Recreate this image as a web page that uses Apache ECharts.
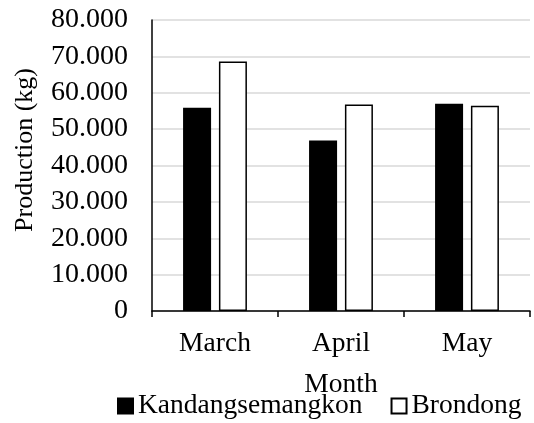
<!DOCTYPE html>
<html>
<head>
<meta charset="utf-8">
<script src="https://cdn.jsdelivr.net/npm/echarts@6/dist/echarts.min.js"></script>
<style>
  html, body { margin: 0; padding: 0; background: #fff; }
  #chart { width: 534px; height: 423px; }
</style>
</head>
<body>
<div id="chart"></div>
<script>
// Monthly production (kg) for two locations
const months = ['March', 'April', 'May'];
const kandangsemangkon = [55900, 46900, 57000];
const brondong = [68600, 56800, 56400];
const yTicks = [0, 10000, 20000, 30000, 40000, 50000, 60000, 70000, 80000];

const FONT = '"Liberation Serif", "Times New Roman", serif';

// Thousands separated by dots, e.g. 80000 -> "80.000"
function fmt(v) {
  return String(v).replace(/\B(?=(\d{3})+(?!\d))/g, '.');
}

const chart = echarts.init(document.getElementById('chart'), null, { renderer: 'canvas' });
chart.setOption({
  animation: false,
  backgroundColor: '#ffffff',
  textStyle: { fontFamily: FONT, color: '#000' },
  grid: { left: 152, right: 4, top: 20, bottom: 112, containLabel: false },
  xAxis: {
    type: 'category',
    data: months,
    name: 'Month',
    nameLocation: 'middle',
    nameGap: 60,
    nameTextStyle: { fontFamily: FONT, fontSize: 27.5, color: '#000' },
    axisLine: { lineStyle: { color: '#000', width: 1.5 } },
    axisTick: { show: true, length: 6, lineStyle: { color: '#000', width: 1.5 } },
    axisLabel: { fontFamily: FONT, fontSize: 27.5, color: '#000', margin: 19 }
  },
  yAxis: {
    type: 'value',
    min: yTicks[0],
    max: yTicks[yTicks.length - 1],
    interval: 10000,
    axisLine: { show: true, lineStyle: { color: '#000', width: 1.5 } },
    axisTick: { show: false },
    splitLine: { lineStyle: { color: '#d9d9d9', width: 1.5 } },
    axisLabel: { fontFamily: FONT, fontSize: 28, color: '#000', margin: 24, formatter: fmt }
  },
  legend: {
    top: 392,
    left: 117,
    padding: 0,
    icon: 'rect',
    itemWidth: 15,
    itemHeight: 15,
    itemGap: 28,
    textStyle: { fontFamily: FONT, fontSize: 27.5, lineHeight: 28, color: '#000' },
    data: ['Kandangsemangkon', 'Brondong']
  },
  graphic: [{
    type: 'text',
    x: 25,
    y: 150,
    rotation: Math.PI / 2,
    style: {
      text: 'Production (kg)',
      font: '26px ' + FONT,
      fill: '#000',
      align: 'center',
      verticalAlign: 'middle'
    }
  }],
  series: [
    {
      name: 'Kandangsemangkon',
      type: 'bar',
      data: kandangsemangkon,
      barWidth: 28,
      barGap: '28%',
      itemStyle: { color: '#000', borderColor: '#000', borderWidth: 1.5 }
    },
    {
      name: 'Brondong',
      type: 'bar',
      data: brondong,
      barWidth: 28,
      itemStyle: { color: '#fff', borderColor: '#000', borderWidth: 1.5 }
    }
  ]
});
</script>
</body>
</html>
